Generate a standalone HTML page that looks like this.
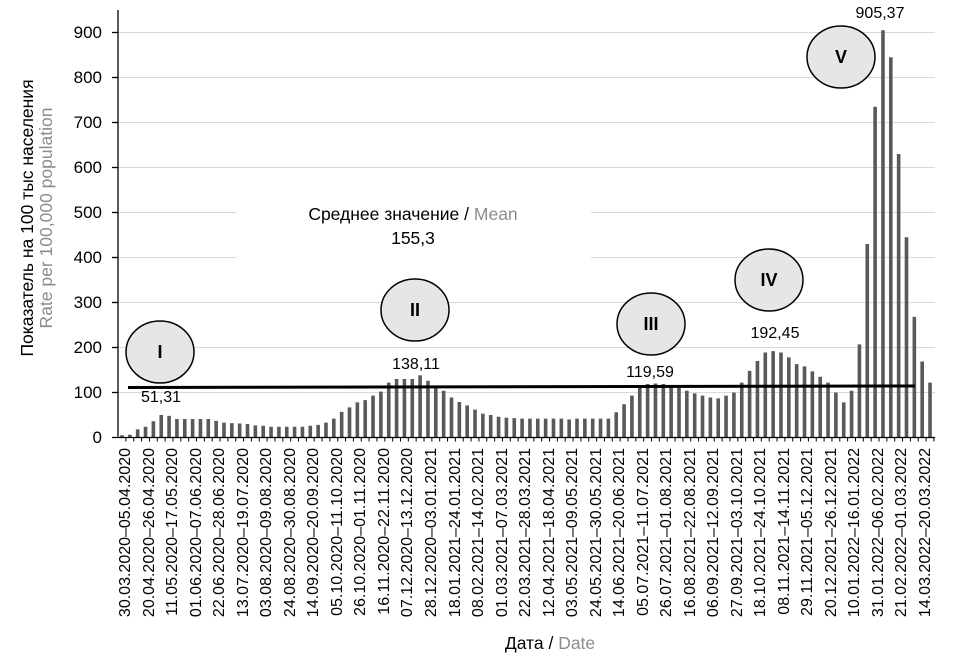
<!DOCTYPE html>
<html><head><meta charset="utf-8"><style>
html,body{margin:0;padding:0;background:#fff;}
svg{display:block;font-family:"Liberation Sans",Arial,sans-serif;}
</style></head><body>
<svg width="979" height="658" viewBox="0 0 979 658" xmlns="http://www.w3.org/2000/svg">
<g stroke="#d9d9d9" stroke-width="1">
<line x1="118" y1="392.5" x2="935" y2="392.5"/>
<line x1="118" y1="347.5" x2="935" y2="347.5"/>
<line x1="118" y1="302.5" x2="935" y2="302.5"/>
<line x1="118" y1="257.5" x2="935" y2="257.5"/>
<line x1="118" y1="212.5" x2="935" y2="212.5"/>
<line x1="118" y1="167.5" x2="935" y2="167.5"/>
<line x1="118" y1="122.5" x2="935" y2="122.5"/>
<line x1="118" y1="77.5" x2="935" y2="77.5"/>
<line x1="118" y1="32.5" x2="935" y2="32.5"/>
</g>
<rect x="236" y="196" width="355" height="62" fill="#fff"/>
<g transform="translate(0,437.5) scale(1,0.45)" fill="#595959">
<path d="M120.2 0
v-5h3.6v5m4.245 0 v-6h3.6v6m4.245 0 v-18h3.6v18m4.245 0 v-24h3.6v24m4.245 0 v-36h3.6v36m4.245 0 v-50h3.6v50m4.245 0 v-48h3.6v48m4.245 0 v-41h3.6v41m4.245 0 v-41h3.6v41m4.245 0 v-41h3.6v41m4.245 0
v-41h3.6v41m4.245 0 v-41h3.6v41m4.245 0 v-37h3.6v37m4.245 0 v-33h3.6v33m4.245 0 v-32h3.6v32m4.245 0 v-31h3.6v31m4.245 0 v-30h3.6v30m4.245 0 v-27h3.6v27m4.245 0 v-26h3.6v26m4.245 0 v-24h3.6v24m4.245 0
v-24h3.6v24m4.245 0 v-24h3.6v24m4.245 0 v-24h3.6v24m4.245 0 v-24h3.6v24m4.245 0 v-26h3.6v26m4.245 0 v-28h3.6v28m4.245 0 v-33h3.6v33m4.245 0 v-42h3.6v42m4.245 0 v-57h3.6v57m4.245 0 v-67h3.6v67m4.245 0
v-78h3.6v78m4.245 0 v-83h3.6v83m4.245 0 v-93h3.6v93m4.245 0 v-102h3.6v102m4.245 0 v-122h3.6v122m4.245 0 v-130h3.6v130m4.245 0 v-130h3.6v130m4.245 0 v-130h3.6v130m4.245 0 v-138h3.6v138m4.245 0 v-126h3.6v126m4.245 0
v-110h3.6v110m4.245 0 v-104h3.6v104m4.245 0 v-89h3.6v89m4.245 0 v-79h3.6v79m4.245 0 v-71h3.6v71m4.245 0 v-62h3.6v62m4.245 0 v-53h3.6v53m4.245 0 v-50h3.6v50m4.245 0 v-46h3.6v46m4.245 0 v-44h3.6v44m4.245 0
v-43h3.6v43m4.245 0 v-42h3.6v42m4.245 0 v-42h3.6v42m4.245 0 v-42h3.6v42m4.245 0 v-42h3.6v42m4.245 0 v-42h3.6v42m4.245 0 v-42h3.6v42m4.245 0 v-40h3.6v40m4.245 0 v-42h3.6v42m4.245 0 v-42h3.6v42m4.245 0
v-42h3.6v42m4.245 0 v-42h3.6v42m4.245 0 v-42h3.6v42m4.245 0 v-56h3.6v56m4.245 0 v-74h3.6v74m4.245 0 v-93h3.6v93m4.245 0 v-111h3.6v111m4.245 0 v-119h3.6v119m4.245 0 v-120h3.6v120m4.245 0 v-119h3.6v119m4.245 0
v-111h3.6v111m4.245 0 v-110h3.6v110m4.245 0 v-104h3.6v104m4.245 0 v-98h3.6v98m4.245 0 v-93h3.6v93m4.245 0 v-89h3.6v89m4.245 0 v-87h3.6v87m4.245 0 v-93h3.6v93m4.245 0 v-100h3.6v100m4.245 0 v-122h3.6v122m4.245 0
v-148h3.6v148m4.245 0 v-170h3.6v170m4.245 0 v-189h3.6v189m4.245 0 v-192h3.6v192m4.245 0 v-189h3.6v189m4.245 0 v-178h3.6v178m4.245 0 v-163h3.6v163m4.245 0 v-158h3.6v158m4.245 0 v-147h3.6v147m4.245 0 v-135h3.6v135m4.245 0
v-122h3.6v122m4.245 0 v-100h3.6v100m4.245 0 v-78h3.6v78m4.245 0 v-104h3.6v104m4.245 0 v-207h3.6v207m4.245 0 v-430h3.6v430m4.245 0 v-735h3.6v735m4.245 0 v-905h3.6v905m4.245 0 v-845h3.6v845m4.245 0 v-630h3.6v630m4.245 0
v-445h3.6v445m4.245 0 v-268h3.6v268m4.245 0 v-169h3.6v169m4.245 0 v-122h3.6v122z"/>
</g>
<g stroke="#000" stroke-width="1.3">
<line x1="118" y1="10" x2="118" y2="437.5"/>
<line x1="112" y1="437.5" x2="935" y2="437.5"/>
<line x1="112" y1="392.5" x2="118" y2="392.5"/><line x1="112" y1="347.5" x2="118" y2="347.5"/>
<line x1="112" y1="302.5" x2="118" y2="302.5"/><line x1="112" y1="257.5" x2="118" y2="257.5"/>
<line x1="112" y1="212.5" x2="118" y2="212.5"/><line x1="112" y1="167.5" x2="118" y2="167.5"/>
<line x1="112" y1="122.5" x2="118" y2="122.5"/><line x1="112" y1="77.5" x2="118" y2="77.5"/>
<line x1="112" y1="32.5" x2="118" y2="32.5"/>
</g>
<line x1="125.4" y1="439.5" x2="935" y2="439.5" stroke="#000" stroke-width="4" stroke-dasharray="1 6.845"/>
<line x1="128" y1="387.5" x2="915" y2="386" stroke="#000" stroke-width="3"/>
<g font-size="17" text-anchor="end" fill="#000">
<text x="102" y="443">0</text><text x="102" y="398">100</text><text x="102" y="353">200</text>
<text x="102" y="308">300</text><text x="102" y="263">400</text><text x="102" y="218">500</text>
<text x="102" y="173">600</text><text x="102" y="128">700</text><text x="102" y="83">800</text>
<text x="102" y="38">900</text>
</g>
<g font-size="17.5" text-anchor="middle">
<text transform="translate(33,218) rotate(-90)" fill="#000">Показатель на 100 тыс населения</text>
<text transform="translate(52,218) rotate(-90)" fill="#8c8c8c">Rate per 100,000 population</text>
<text x="550" y="649" fill="#000">Дата / <tspan fill="#8c8c8c">Date</tspan></text>
<text x="413" y="220" fill="#000">Среднее значение / <tspan fill="#8c8c8c">Mean</tspan></text>
<text x="413" y="244" fill="#000">155,3</text>
</g>
<g font-size="16" text-anchor="middle" fill="#000">
<text x="161" y="402">51,31</text>
<text x="416" y="369">138,11</text>
<text x="650" y="377">119,59</text>
<text x="775" y="338">192,45</text>
<text x="880" y="18">905,37</text>
</g>
<g fill="#e6e6e6" stroke="#000" stroke-width="1.5">
<ellipse cx="160" cy="352" rx="34" ry="31"/>
<ellipse cx="415" cy="310" rx="34" ry="31"/>
<ellipse cx="651" cy="324" rx="34" ry="31"/>
<ellipse cx="769" cy="280" rx="34" ry="31"/>
<ellipse cx="841" cy="57" rx="34" ry="31"/>
</g>
<g font-size="18" font-weight="bold" text-anchor="middle" fill="#000">
<text x="160" y="358">I</text><text x="415" y="316">II</text><text x="651" y="330">III</text>
<text x="769" y="286">IV</text><text x="841" y="63">V</text>
</g>
<g font-size="16" text-anchor="end" fill="#000">
<text transform="translate(130,448) rotate(-90)">30.03.2020–05.04.2020</text>
<text transform="translate(154,448) rotate(-90)">20.04.2020–26.04.2020</text>
<text transform="translate(177,448) rotate(-90)">11.05.2020–17.05.2020</text>
<text transform="translate(201,448) rotate(-90)">01.06.2020–07.06.2020</text>
<text transform="translate(224,448) rotate(-90)">22.06.2020–28.06.2020</text>
<text transform="translate(248,448) rotate(-90)">13.07.2020–19.07.2020</text>
<text transform="translate(271,448) rotate(-90)">03.08.2020–09.08.2020</text>
<text transform="translate(295,448) rotate(-90)">24.08.2020–30.08.2020</text>
<text transform="translate(318,448) rotate(-90)">14.09.2020–20.09.2020</text>
<text transform="translate(342,448) rotate(-90)">05.10.2020–11.10.2020</text>
<text transform="translate(365,448) rotate(-90)">26.10.2020–01.11.2020</text>
<text transform="translate(389,448) rotate(-90)">16.11.2020–22.11.2020</text>
<text transform="translate(412,448) rotate(-90)">07.12.2020–13.12.2020</text>
<text transform="translate(436,448) rotate(-90)">28.12.2020–03.01.2021</text>
<text transform="translate(460,448) rotate(-90)">18.01.2021–24.01.2021</text>
<text transform="translate(483,448) rotate(-90)">08.02.2021–14.02.2021</text>
<text transform="translate(507,448) rotate(-90)">01.03.2021–07.03.2021</text>
<text transform="translate(530,448) rotate(-90)">22.03.2021–28.03.2021</text>
<text transform="translate(554,448) rotate(-90)">12.04.2021–18.04.2021</text>
<text transform="translate(577,448) rotate(-90)">03.05.2021–09.05.2021</text>
<text transform="translate(601,448) rotate(-90)">24.05.2021–30.05.2021</text>
<text transform="translate(624,448) rotate(-90)">14.06.2021–20.06.2021</text>
<text transform="translate(648,448) rotate(-90)">05.07.2021–11.07.2021</text>
<text transform="translate(671,448) rotate(-90)">26.07.2021–01.08.2021</text>
<text transform="translate(695,448) rotate(-90)">16.08.2021–22.08.2021</text>
<text transform="translate(718,448) rotate(-90)">06.09.2021–12.09.2021</text>
<text transform="translate(742,448) rotate(-90)">27.09.2021–03.10.2021</text>
<text transform="translate(765,448) rotate(-90)">18.10.2021–24.10.2021</text>
<text transform="translate(789,448) rotate(-90)">08.11.2021–14.11.2021</text>
<text transform="translate(812,448) rotate(-90)">29.11.2021–05.12.2021</text>
<text transform="translate(836,448) rotate(-90)">20.12.2021–26.12.2021</text>
<text transform="translate(859,448) rotate(-90)">10.01.2022–16.01.2022</text>
<text transform="translate(883,448) rotate(-90)">31.01.2022–06.02.2022</text>
<text transform="translate(906,448) rotate(-90)">21.02.2022–01.03.2022</text>
<text transform="translate(930,448) rotate(-90)">14.03.2022–20.03.2022</text>
</g>
</svg>
</body></html>
